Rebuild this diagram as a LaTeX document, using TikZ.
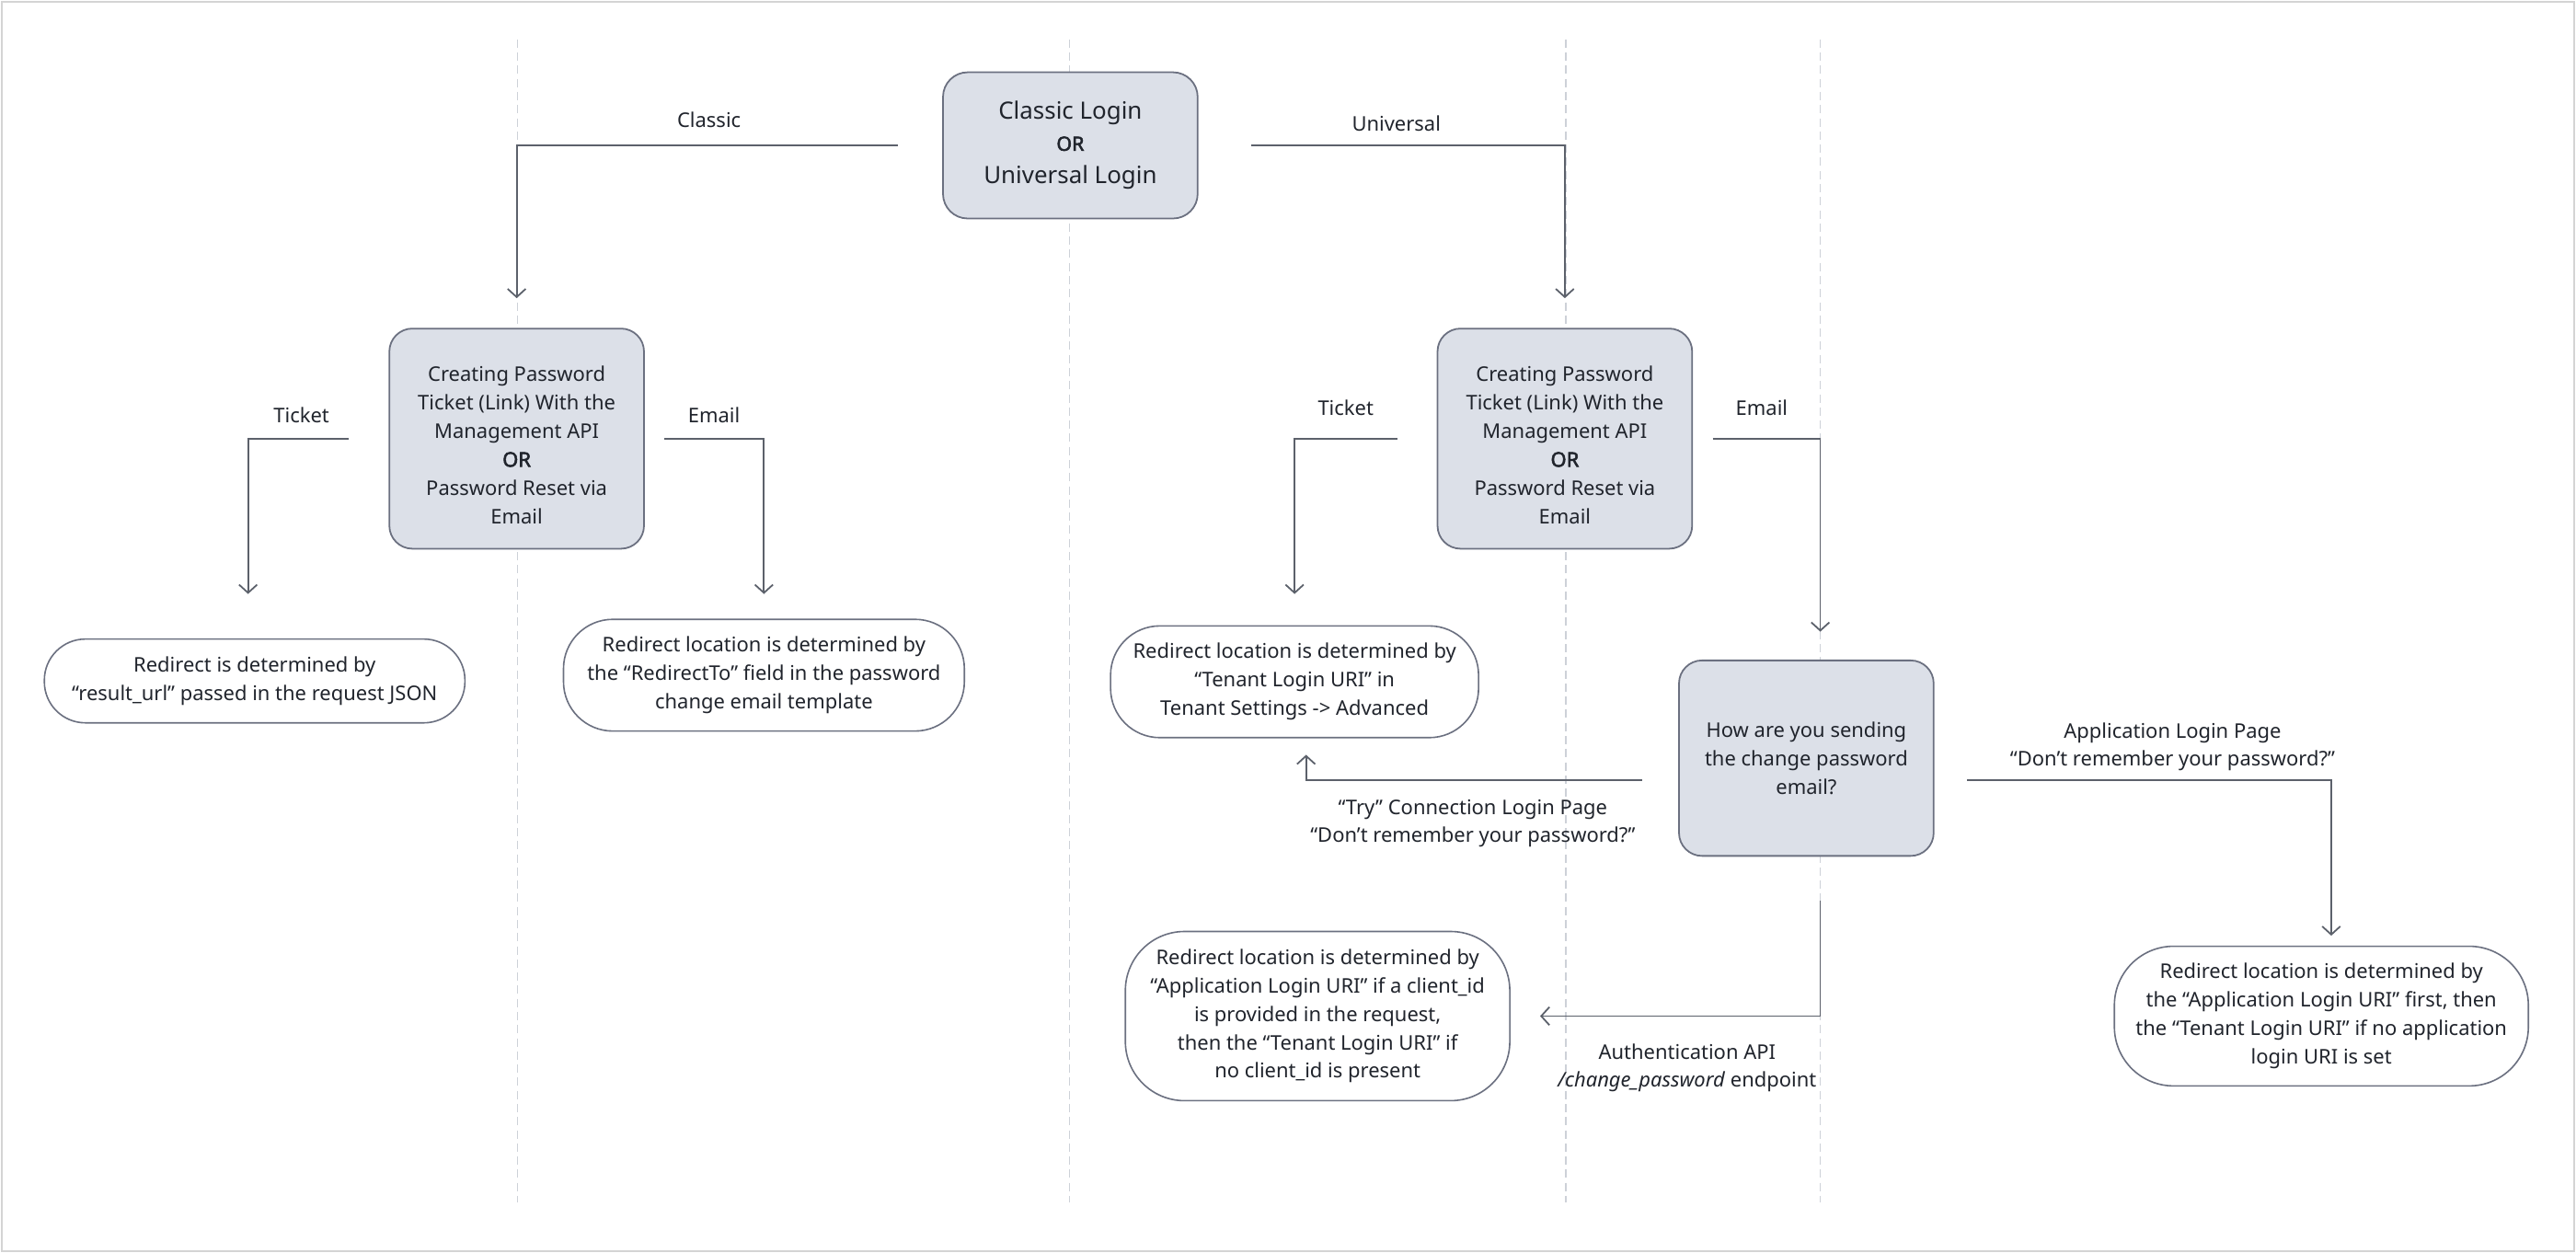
\documentclass[tikz,border=0pt]{standalone}
\usepackage{fontspec}
\setmainfont{Noto Sans}[BoldFont={Noto Sans},BoldFeatures={FakeBold=2.5}]
\usetikzlibrary{positioning,arrows.meta}

\definecolor{boxfill}{HTML}{DCE0E8}
\definecolor{boxline}{HTML}{6B7080}
\definecolor{flowline}{HTML}{5C616B}
\definecolor{guideline}{HTML}{CDD1D8}
\definecolor{framegray}{HTML}{D4D4D4}
\definecolor{textdark}{HTML}{20242C}

\begin{document}
\begin{tikzpicture}[x=1pt,y=-1pt,on grid,
  every node/.style={text=textdark,font=\fontsize{12.3}{17.3}\selectfont},
  greybox/.style={draw=boxline,fill=boxfill,line width=1pt,rounded corners=14pt,
    align=center,minimum width=155pt,inner sep=0pt},
  redirect/.style={draw=boxline,line width=0.9pt,align=center,inner sep=0pt},
  flow/.style={draw=flowline,line width=1pt,-{Straight Barb[length=5pt,width=11pt]}},
  guide/.style={draw=guideline,line width=0.8pt,dash pattern=on 5pt off 3pt},
  lbl/.style={align=center,font=\fontsize{12.3}{17}\selectfont}]
  \useasboundingbox (0,0) rectangle (1568,762.7);
  \draw[framegray,line width=1pt] (1,1) rectangle (1567,761.7);

  % guide lines
  \foreach \gx/\gn in {315/ga,651/gb,953/gc,1108/gd}
    \draw[guide] (\gx,24) coordinate (\gn) -- (\gx,732);

  \node[greybox,minimum height=89pt,rounded corners=15pt,font=\fontsize{14.5}{21}\selectfont]
    (login) at (651.5,88.5) {Classic Login\\[-2pt]{\fontsize{12}{14}\selectfont\bfseries OR}\\[-1pt]Universal Login};
  \node[greybox,minimum height=134pt] (pwdL) [below left=178.5pt and 337pt of login]
    {\rule{0pt}{17pt}Creating Password\\Ticket (Link) With the\\Management API\\\textbf{OR}\\Password Reset via\\Email};
  \node[greybox,minimum height=134pt] (pwdR) [below right=178.5pt and 301pt of login]
    {\rule{0pt}{17pt}Creating Password\\Ticket (Link) With the\\Management API\\\textbf{OR}\\Password Reset via\\Email};
  \node[redirect,minimum width=256pt,minimum height=51pt,rounded corners=25pt] (res1)
    [below left=147.5pt and 159.5pt of pwdL] {Redirect is determined by\\“result\_url” passed in the request JSON};
  \node[redirect,minimum width=244pt,minimum height=68pt,rounded corners=30pt] (res2)
    [below right=144pt and 150.5pt of pwdL] {Redirect location is determined by\\the “RedirectTo” field in the password\\change email template};
  \node[redirect,minimum width=224pt,minimum height=68pt,rounded corners=30pt] (res3)
    [below left=148pt and 164.5pt of pwdR] {Redirect location is determined by\\“Tenant Login URI” in\\Tenant Settings -> Advanced};
  \node[greybox,minimum height=119pt] (ask) [below right=194.5pt and 147pt of pwdR]
    {How are you sending\\the change password\\email?};
  \node[redirect,minimum width=234pt,minimum height=103pt,rounded corners=36pt] (res4)
    [below left=157pt and 297.5pt of ask] {Redirect location is determined by\\“Application Login URI” if a client\_id\\is provided in the request,\\then the “Tenant Login URI” if\\no client\_id is present};
  \node[redirect,minimum width=252pt,minimum height=85pt,rounded corners=36pt] (res5)
    [below right=157pt and 313.5pt of ask] {Redirect location is determined by\\the “Application Login URI” first, then\\the “Tenant Login URI” if no application\\login URI is set};

  \draw[flow,shorten <=27pt,shorten >=18pt] (login.west) -| node[pos=0.274,above=7pt] {Classic} (pwdL.north);
  \draw[flow,shorten <=32pt,shorten >=18pt] (login.east) -| node[pos=0.27,above=5pt] {Universal} (pwdR.north);
  \draw[flow,shorten <=24pt,shorten >=27pt] (pwdL.west) -| node[pos=0.31,above=6pt] {Ticket} ([xshift=-4pt]res1.north);
  \draw[flow,shorten <=12pt,shorten >=15pt] (pwdL.east) -| node[pos=0.29,above=6pt] {Email} (res2.north);
  \draw[flow,shorten <=24pt,shorten >=19pt] (pwdR.west) -| node[pos=0.32,above=10pt] {Ticket} (res3.north);
  \draw[flow,shorten <=12pt,shorten >=17pt] (pwdR.east) -| node[pos=0.27,above=10pt] {Email} (gd |- ask.north);
  \draw[flow,shorten <=22pt,shorten >=10pt] ([yshift=-13.5pt]ask.west) -| node[pos=0.276,below=8pt,lbl]
    {“Try” Connection Login Page\\“Don’t remember your password?”} ([xshift=7pt]res3.south);
  \draw[flow,shorten <=20pt,shorten >=6pt] ([yshift=-13.5pt]ask.east) -| node[pos=0.30,above=2pt,lbl]
    {Application Login Page\\“Don’t remember your password?”} ([xshift=6pt]res5.north);
  \draw[flow,shorten <=27pt,shorten >=18pt] (gd |- ask.south) |- node[pos=0.715,below=13pt,lbl]
    {Authentication API\\\textit{/change\_password} endpoint} (res4.east);
\end{tikzpicture}
\end{document}
